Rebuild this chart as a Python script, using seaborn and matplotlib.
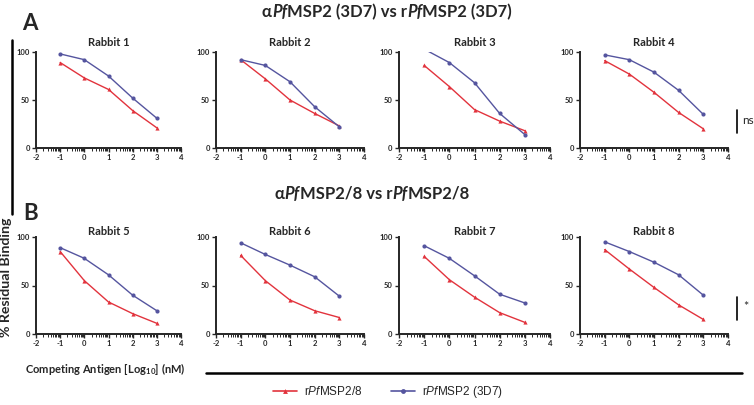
import numpy as np
import pandas as pd
import matplotlib
matplotlib.use("Agg")
import matplotlib.pyplot as plt
import seaborn as sns
from matplotlib.lines import Line2D

# ---------------- data ----------------
log_conc = [-1, 0, 1, 2, 3]
rabbits = ["Rabbit 1", "Rabbit 2", "Rabbit 3", "Rabbit 4",
           "Rabbit 5", "Rabbit 6", "Rabbit 7", "Rabbit 8"]
red_label = "rPfMSP2/8"
blue_label = "rPfMSP2 (3D7)"

red_r1 = [89, 73, 61, 39, 21]
red_r2 = [92, 72, 50, 36, 23]
red_r3 = [86, 64, 40, 28, 18]
red_r4 = [91, 77, 58, 37, 20]
red_r5 = [85, 55, 33, 21, 11]
red_r6 = [81, 55, 35, 24, 17]
red_r7 = [80, 56, 38, 22, 12]
red_r8 = [87, 67, 48, 30, 15]

blue_r1 = [98, 92, 75, 52, 31]
blue_r2 = [92, 86, 69, 43, 22]
blue_r3 = [103, 89, 68, 36, 14]
blue_r4 = [97, 92, 79, 60, 35]
blue_r5 = [89, 78, 61, 40, 24]
blue_r6 = [94, 82, 71, 59, 39]
blue_r7 = [91, 78, 60, 41, 32]
blue_r8 = [95, 85, 74, 61, 40]

red_all = [red_r1, red_r2, red_r3, red_r4, red_r5, red_r6, red_r7, red_r8]
blue_all = [blue_r1, blue_r2, blue_r3, blue_r4, blue_r5, blue_r6, blue_r7, blue_r8]

rows = []
for rb, rv, bv in zip(rabbits, red_all, blue_all):
    for x, v in zip(log_conc, rv):
        rows.append((rb, red_label, x, v))
    for x, v in zip(log_conc, bv):
        rows.append((rb, blue_label, x, v))
df = pd.DataFrame(rows, columns=["rabbit", "antigen", "log_conc", "binding"])

# ---------------- style ----------------
sns.set_theme(style="ticks")
plt.rcParams["font.family"] = ["Lato", "DejaVu Sans"]
plt.rcParams["axes.unicode_minus"] = False
plt.rcParams["mathtext.fontset"] = "custom"
plt.rcParams["mathtext.rm"] = "Liberation Sans"
plt.rcParams["mathtext.it"] = "Liberation Sans:italic"
plt.rcParams["mathtext.bf"] = "Lato:bold"

RED = "#e2333d"
BLUE = "#55559f"
palette = {red_label: RED, blue_label: BLUE}
markers = {red_label: "^", blue_label: "o"}

W, H = 754, 405
fig = plt.figure(figsize=(W / 100, H / 100), dpi=100)

cols = [(36, 181), (216, 364), (399, 550), (580, 728)]
rows_px = [(52, 148), (237, 334)]
title_y = [42, 231]


def fx(px):
    return px / W


def fy(py):
    return 1 - py / H


minor = [k + np.log10(m) for k in range(-2, 4) for m in range(2, 10)]

for i, rb in enumerate(rabbits):
    r, c = divmod(i, 4)
    x0, x1 = cols[c]
    ytop, ybot = rows_px[r]
    ax = fig.add_axes([fx(x0), fy(ybot), (x1 - x0) / W, (ybot - ytop) / H])
    sub = df[df["rabbit"] == rb]
    sns.lineplot(data=sub, x="log_conc", y="binding", hue="antigen",
                 style="antigen", markers=markers, dashes=False,
                 palette=palette, hue_order=[red_label, blue_label],
                 markersize=3, markeredgewidth=0, linewidth=1,
                 legend=False, ax=ax)
    ax.set_xlim(-2, 4)
    ax.set_ylim(0, 100)
    ax.set_xticks(range(-2, 5))
    ax.set_xticks(minor, minor=True)
    ax.set_yticks([0, 50, 100])
    ax.set_xlabel("")
    ax.set_ylabel("")
    for s in ["top", "right"]:
        ax.spines[s].set_visible(False)
    for s in ["left", "bottom"]:
        ax.spines[s].set_linewidth(1.4)
    ax.tick_params(axis="both", which="major", length=3, width=1,
                   labelsize=5.5, pad=1.5)
    ax.tick_params(axis="x", which="minor", length=1.8, width=0.7)
    for lab in ax.get_xticklabels() + ax.get_yticklabels():
        lab.set_fontweight("bold")
    ax.patch.set_alpha(0)
    fig.text(fx((x0 + x1) / 2), fy(title_y[r]), rb, ha="center",
             va="center", fontsize=8, fontweight="bold")


# rich text helper (bold with italic parts)
def rich(cx, cy, segments, size):
    renderer = fig.canvas.get_renderer()
    ts = []
    widths = []
    for s, st in segments:
        t = fig.text(0, 0, s, fontsize=size, fontweight="bold", style=st,
                     family=["Lato", "DejaVu Sans"], va="center", ha="left")
        widths.append(t.get_window_extent(renderer).width)
        ts.append(t)
    total = sum(widths)
    x = cx - total / 2
    for t, w in zip(ts, widths):
        t.set_position((fx(x), fy(cy)))
        x += w


rich(387, 12, [("α", "normal"), ("Pf", "italic"), ("MSP2 (3D7) vs r", "normal"),
               ("Pf", "italic"), ("MSP2 (3D7)", "normal")], 12)
rich(372, 194, [("α", "normal"), ("Pf", "italic"), ("MSP2/8 vs r", "normal"),
                ("Pf", "italic"), ("MSP2/8", "normal")], 12)

fig.text(fx(22), fy(24), "A", fontsize=16, fontweight="bold", va="center")
fig.text(fx(23), fy(213), "B", fontsize=16, fontweight="bold", va="center")

# y label and bar
fig.text(fx(6), fy(277), "% Residual Binding", rotation=90, fontsize=10.2,
         fontweight="bold", ha="center", va="center")
fig.add_artist(Line2D([fx(12), fx(12)], [fy(40), fy(214)], color="black",
                      lw=1.8, transform=fig.transFigure))

# x label and bar
fig.text(fx(25), fy(369), r"Competing Antigen [Log$_{\mathbf{10}}$] (nM)",
         fontsize=8, fontweight="bold", ha="left", va="center")
fig.add_artist(Line2D([fx(206), fx(742)], [fy(373), fy(373)], color="black",
                      lw=1.8, transform=fig.transFigure))

# significance brackets
fig.add_artist(Line2D([fx(737), fx(737)], [fy(110), fy(133)], color="black",
                      lw=1.2, transform=fig.transFigure))
fig.text(fx(742), fy(120), "ns", fontsize=8.5, ha="left", va="center")
fig.add_artist(Line2D([fx(737), fx(737)], [fy(297), fy(320)], color="black",
                      lw=1.2, transform=fig.transFigure))
fig.text(fx(743), fy(307), "*", fontsize=9, ha="left", va="center")

# legend
handles = [Line2D([], [], color=RED, marker="^", markersize=3.5, lw=1.2,
                  markeredgewidth=0),
           Line2D([], [], color=BLUE, marker="o", markersize=3.5, lw=1.2,
                  markeredgewidth=0)]
labels = [r"r$\mathit{Pf}$MSP2/8", r"r$\mathit{Pf}$MSP2 (3D7)"]
leg = fig.legend(handles, labels, loc="center", bbox_to_anchor=(fx(388), fy(392)),
                 ncol=2, frameon=False, handlelength=2.0,
                 columnspacing=2.5, handletextpad=0.6,
                 prop={"family": "Liberation Sans", "size": 8.5})

fig.savefig("out.png", dpi=100)
